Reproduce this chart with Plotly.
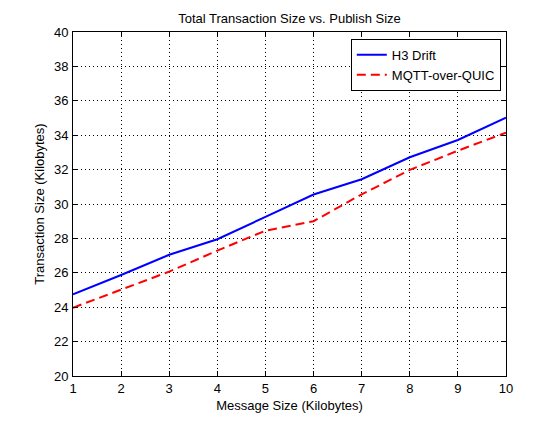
import plotly.graph_objects as go

msg_size = [1, 2, 3, 4, 5, 6, 7, 8, 9, 10]
h3_drift = [24.75, 25.87, 27.05, 27.95, 29.25, 30.55, 31.44, 32.72, 33.72, 35.02]
mqtt_quic = [23.97, 25.04, 26.07, 27.29, 28.45, 29.0, 30.56, 31.98, 33.1, 34.15]

fig = go.Figure()
fig.add_trace(go.Scatter(
    x=msg_size, y=h3_drift, mode="lines", name="H3 Drift",
    line=dict(color="#0000ff", width=2)
))
fig.add_trace(go.Scatter(
    x=msg_size, y=mqtt_quic, mode="lines", name="MQTT-over-QUIC",
    line=dict(color="#ff0000", width=2, dash="9px 5px")
))

axis_style = dict(
    showline=True, linecolor="black", linewidth=1, mirror="ticks",
    ticks="inside", ticklen=5, tickcolor="black",
    showgrid=True, gridcolor="black", gridwidth=1, griddash="1px 3px",
    zeroline=False, tickfont=dict(size=13, color="black"),
    automargin=False,
)

fig.update_layout(
    width=559, height=423,
    margin=dict(l=73, r=53, t=32, b=47),
    paper_bgcolor="white", plot_bgcolor="white",
    font=dict(family="Liberation Sans, Arial, sans-serif", size=13, color="black"),
    title=dict(text="Total Transaction Size vs. Publish Size", x=0.5, xref="paper",
               y=1, yref="container", yanchor="top", pad=dict(t=14),
               font=dict(size=13)),
    xaxis=dict(axis_style, range=[1, 10], dtick=1, ticklabelstandoff=0,
               title=dict(text="Message Size (Kilobytes)", standoff=6, font=dict(size=13))),
    yaxis=dict(axis_style, range=[20, 40], dtick=2, ticklabelstandoff=1,
               title=dict(text="Transaction Size (Kilobytes)", standoff=6, font=dict(size=13))),
    legend=dict(x=0.988, y=0.98, xanchor="right", yanchor="top",
                bgcolor="white", bordercolor="black", borderwidth=1,
                font=dict(size=13), tracegroupgap=0),
    showlegend=True,
)

fig.write_html("out.html", config={"displayModeBar": False},
               post_script="document.body.style.margin='0';")
